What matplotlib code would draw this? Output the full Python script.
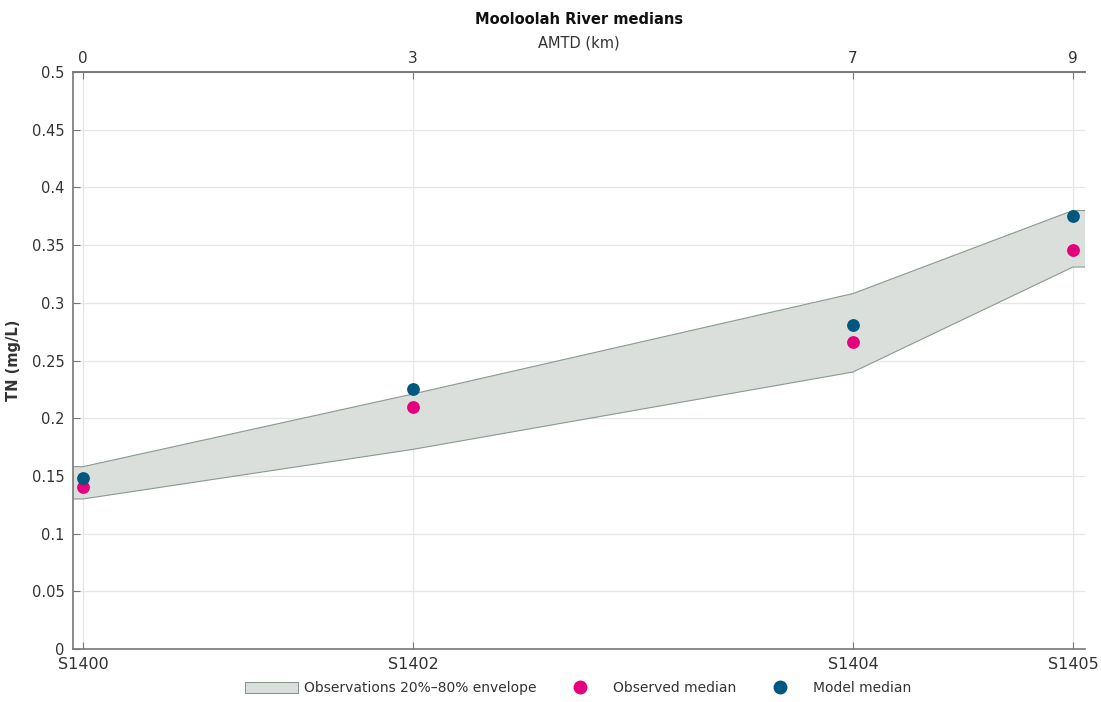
import matplotlib
matplotlib.use("Agg")
import matplotlib.pyplot as plt
from matplotlib.patches import Patch
from matplotlib.lines import Line2D

amtd = [0, 3, 7, 9]
sites = ["S1400", "S1402", "S1404", "S1405"]
env_low = [0.130, 0.173, 0.240, 0.331]
env_high = [0.158, 0.221, 0.308, 0.380]
obs_median = [0.140, 0.210, 0.266, 0.346]
model_median = [0.148, 0.225, 0.281, 0.375]

xmin, xmax = -0.09, 9.11

plt.rcParams['font.family'] = ['DejaVu Sans']
fig = plt.figure(figsize=(11.01, 7.02), dpi=100)
ax = fig.add_axes([0.0663, 0.0755, 0.9192, 0.8219])

spine_c = '#777777'
text_c = '#333333'
fill_c = '#dadfdb'
edge_c = '#8a9990'
pink = '#e5007d'
blue = '#00587f'

# envelope extended flat to axis edges
ex = [xmin] + amtd + [xmax]
elo = [env_low[0]] + env_low + [env_low[-1]]
ehi = [env_high[0]] + env_high + [env_high[-1]]
ax.fill_between(ex, elo, ehi, facecolor=fill_c, edgecolor='none', zorder=2)
ax.plot(ex, elo, color=edge_c, lw=0.8, zorder=3)
ax.plot(ex, ehi, color=edge_c, lw=0.8, zorder=3)

ax.scatter(amtd, obs_median, s=85, color=pink, zorder=4, linewidths=0)
ax.scatter(amtd, model_median, s=85, color=blue, zorder=5, linewidths=0)

ax.set_xlim(xmin, xmax)
ax.set_ylim(0, 0.5)
ax.set_xticks(amtd)
ax.set_xticklabels(sites)
yt = [0, 0.05, 0.1, 0.15, 0.2, 0.25, 0.3, 0.35, 0.4, 0.45, 0.5]
ax.set_yticks(yt)
ax.set_yticklabels(['0', '0.05', '0.1', '0.15', '0.2', '0.25', '0.3', '0.35', '0.4', '0.45', '0.5'])
ax.grid(True, color='#e6e6e6', lw=0.9, zorder=0)
ax.set_axisbelow(True)
ax.tick_params(direction='in', length=5, color=spine_c, labelcolor=text_c, labelsize=10.5, pad=6)
ax.tick_params(axis='x', pad=6, labelsize=11.5)
for s in ['right']:
    ax.spines[s].set_visible(False)
for s in ['left', 'bottom', 'top']:
    ax.spines[s].set_color(spine_c)
    ax.spines[s].set_linewidth(1.2)
ax.set_ylabel('TN (mg/L)', fontsize=10.5, fontweight='bold', color=text_c, labelpad=8)

top = ax.twiny()
top.set_xlim(xmin, xmax)
top.set_xticks(amtd)
top.set_xticklabels([str(a) for a in amtd])
top.tick_params(direction='in', length=5, color=spine_c, labelcolor=text_c, labelsize=11, pad=4)
for s in ['right', 'left', 'bottom']:
    top.spines[s].set_visible(False)
top.spines['top'].set_color(spine_c)
top.spines['top'].set_linewidth(1.2)
top.set_xlabel('AMTD (km)', fontsize=10.5, color=text_c, labelpad=3)
top.set_title('Mooloolah River medians', fontsize=10.5, fontweight='bold', color='#111111', pad=8)

handles = [
    Patch(facecolor=fill_c, edgecolor=edge_c, lw=0.8, label='Observations 20%\u201380% envelope'),
    Line2D([], [], marker='o', ls='none', color=pink, markersize=9, label='Observed median'),
    Line2D([], [], marker='o', ls='none', color=blue, markersize=9, label='Model median'),
]
fig.legend(handles=handles, loc='lower center', bbox_to_anchor=(0.525, -0.008), ncol=3, frameon=False,
           fontsize=10, labelcolor=text_c, columnspacing=1.2, handlelength=3.8, handleheight=0.9,
           handletextpad=0.5)

fig.savefig('out.png', dpi=100)
